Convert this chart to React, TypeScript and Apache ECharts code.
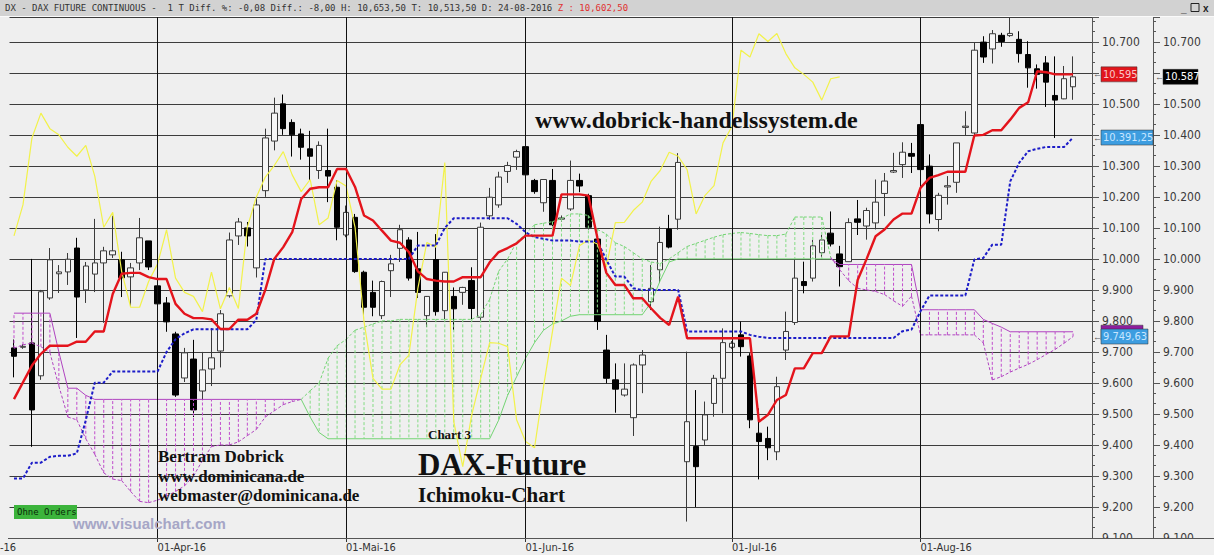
import React, { useEffect, useRef } from "react";
import * as echarts from "echarts";

// ---- Data (DAX future daily, ~09-Mar-16 .. 24-Aug-16) ----
const opens = [9713, 9715, 9729, 9623, 9874, 9952, 9958, 10035, 9900, 9951,
  9987, 10013, 9997, 9942, 9987, 10058, 9913, 9858, 9758, 9616,
  9677, 9574, 9645, 9703, 9881, 10074, 10100, 9971, 10220, 10380,
  10500, 10440, 10403, 10355, 10285, 10285, 10231, 10077, 10134, 9957,
  9892, 9817, 9962, 10034, 10061, 9968, 9817, 9998, 9833, 9879,
  9892, 9930, 9812, 10139, 10174, 10282, 10328, 10362, 10253, 10181,
  10253, 10128, 10161, 10253, 10204, 10064, 9706, 9610, 9561, 9488,
  9658, 9862, 9965, 10096, 10128, 9346, 9395, 9416, 9534, 9615,
  9715, 9755, 9687, 9438, 9421, 9378, 9706, 9795, 9927, 9938,
  10020, 10083, 10016, 9991, 10129, 10106, 10116, 10211, 10280, 10304,
  10340, 10433, 10299, 10127, 10232, 10247, 10424, 10406, 10699, 10677,
  10721, 10720, 10708, 10659, 10613, 10632, 10527, 10516, 10555];
const closes = [9686, 9718, 9513, 9894, 9997, 9958, 9999, 9877, 9977, 9987,
  10026, 10026, 9939, 9971, 10068, 9974, 9855, 9797, 9561, 9697,
  9513, 9642, 9681, 9823, 10061, 10119, 10074, 10174, 10390, 10470,
  10420, 10400, 10360, 10331, 10366, 10267, 10102, 10150, 9959, 9844,
  9844, 9927, 9984, 10094, 9938, 9892, 9879, 9830, 9957, 9839,
  9908, 9840, 10102, 10199, 10264, 10301, 10346, 10271, 10217, 10256,
  10110, 10132, 10253, 10235, 10102, 9798, 9615, 9580, 9580, 9658,
  9690, 9905, 10053, 10038, 10311, 9475, 9330, 9497, 9615, 9730,
  9728, 9717, 9481, 9411, 9391, 9588, 9766, 9938, 9914, 10042,
  10061, 10048, 9975, 10117, 10118, 10156, 10183, 10251, 10285, 10344,
  10331, 10288, 10145, 10205, 10236, 10374, 10428, 10673, 10651, 10726,
  10701, 10727, 10662, 10616, 10595, 10570, 10512, 10581, 10587];
const lows = [9618, 9710, 9394, 9610, 9868, 9890, 9916, 9745, 9858, 9893,
  9794, 10003, 9877, 9845, 9964, 9964, 9850, 9765, 9555, 9603,
  9490, 9545, 9590, 9650, 9875, 10045, 10040, 9940, 10200, 10350,
  10400, 10330, 10320, 10253, 10258, 10183, 10060, 10070, 9955, 9815,
  9815, 9806, 9877, 9990, 9930, 9874, 9780, 9817, 9806, 9771,
  9852, 9806, 9798, 10126, 10165, 10245, 10287, 10229, 10210, 10152,
  10105, 10120, 10155, 10215, 10095, 9771, 9599, 9504, 9556, 9429,
  9567, 9835, 9922, 10034, 10094, 9153, 9200, 9400, 9491, 9502,
  9710, 9685, 9454, 9289, 9351, 9351, 9674, 9787, 9889, 9927,
  10007, 10040, 9911, 9991, 10077, 10062, 10095, 10138, 10277, 10261,
  10277, 10285, 10114, 10089, 10175, 10213, 10398, 10396, 10632, 10630,
  10684, 10716, 10633, 10552, 10549, 10490, 10390, 10515, 10513];
const highs = [9740, 9725, 10000, 9900, 10035, 9980, 10019, 10068, 9990, 10129,
  10039, 10139, 10023, 9987, 10132, 10058, 9920, 9877, 9765, 9713,
  9739, 9700, 9777, 9835, 10085, 10132, 10119, 10200, 10420, 10520,
  10530, 10450, 10420, 10413, 10379, 10420, 10253, 10172, 10145, 9962,
  9930, 9930, 10013, 10110, 10070, 10087, 9877, 10080, 9956, 9908,
  9910, 9973, 10117, 10229, 10281, 10313, 10352, 10374, 10258, 10255,
  10290, 10140, 10317, 10275, 10210, 10070, 9755, 9663, 9663, 9663,
  9706, 9980, 10104, 10142, 10341, 9701, 9577, 9540, 9626, 9776,
  9735, 9798, 9696, 9518, 9459, 9620, 9830, 9997, 9991, 10061,
  10077, 10153, 10042, 10131, 10190, 10165, 10256, 10277, 10342, 10376,
  10374, 10433, 10337, 10213, 10267, 10374, 10476, 10697, 10718, 10738,
  10729, 10785, 10734, 10702, 10627, 10654, 10653, 10622, 10653];

const tenkan = [9548, 9602, 9656, 9694, 9720, 9720, 9720, 9733, 9733, 9766,
  9766, 9887, 9952, 9955, 9955, 9941, 9935, 9935, 9855, 9823,
  9809, 9809, 9805, 9774, 9774, 9804, 9804, 9823, 9900, 10000,
  10038, 10086, 10193, 10226, 10231, 10231, 10290, 10290, 10232, 10140,
  10124, 10091, 10059, 10052, 10022, 9960, 9935, 9930, 9927, 9927,
  9941, 9941, 9941, 9989, 10022, 10035, 10050, 10075, 10075, 10075,
  10075, 10208, 10208, 10208, 10204, 10068, 9955, 9916, 9916, 9873,
  9873, 9840, 9810, 9787, 9878, 9744, 9744, 9744, 9744, 9744,
  9744, 9744, 9744, 9475, 9497, 9545, 9561, 9647, 9647, 9696,
  9696, 9750, 9750, 9750, 9932, 10000, 10073, 10095, 10127, 10146,
  10146, 10229, 10261, 10270, 10281, 10281, 10281, 10398, 10400, 10415,
  10415, 10449, 10487, 10505, 10605, 10602, 10595, 10595, 10595];
const kijun = [9292, 9292, 9343, 9343, 9362, 9365, 9365, 9373, 9480, 9601,
  9601, 9637, 9637, 9637, 9637, 9637, 9637, 9700, 9741, 9760,
  9773, 9773, 9773, 9773, 9773, 9773, 9773, 9803, 10000, 10000,
  10000, 10000, 10000, 10000, 10000, 10000, 10000, 10000, 10000, 10000,
  10000, 10000, 10000, 10000, 10000, 10043, 10043, 10043, 10100, 10131,
  10131, 10131, 10131, 10131, 10131, 10131, 10113, 10086, 10070, 10065,
  10059, 10059, 10059, 10056, 10056, 10056, 9997, 9943, 9943, 9905,
  9900, 9900, 9900, 9900, 9900, 9766, 9766, 9766, 9766, 9766,
  9766, 9766, 9755, 9749, 9745, 9745, 9745, 9745, 9745, 9745,
  9745, 9745, 9745, 9745, 9745, 9745, 9745, 9745, 9745, 9767,
  9772, 9831, 9882, 9882, 9882, 9882, 9882, 9998, 10003, 10046,
  10046, 10250, 10310, 10347, 10355, 10361, 10361, 10361, 10391.25];
const spanA = [9712, 9723, 9728, 9717, 9698, 9590, 9490, 9481, 9420, 9370,
  9310, 9290, 9285, 9250, 9218, 9214, 9222, 9235, 9250, 9268,
  9300, 9350, 9395, 9400, 9400, 9410, 9430, 9450, 9490, 9510,
  9530, 9540, 9547, 9575, 9600, 9680, 9720, 9740, 9770, 9780,
  9790, 9800, 9800, 9805, 9805, 9805, 9805, 9805, 9805, 9805,
  9805, 9805, 9820, 9870, 9960, 10000, 10055, 10080, 10110, 10115,
  10120, 10130, 10145, 10145, 10140, 10095, 10080, 10052, 10040, 10020,
  10000, 9990, 9985, 10000, 10020, 10040, 10050, 10060, 10070, 10078,
  10082, 10085, 10082, 10078, 10075, 10075, 10080, 10135, 10135, 10135,
  10135, 10005, 9965, 9930, 9905, 9900, 9895, 9885, 9865, 9847,
  9880, 9755, 9755, 9755, 9755, 9755, 9755, 9755, 9729, 9610,
  9620, 9635, 9648, 9660, 9675, 9692, 9708, 9728, 9749.63];
const spanB = [9825, 9825, 9825, 9825, 9825, 9700, 9583, 9583, 9560, 9547,
  9547, 9547, 9547, 9547, 9547, 9547, 9547, 9547, 9547, 9547,
  9547, 9547, 9547, 9547, 9547, 9547, 9547, 9547, 9547, 9547,
  9547, 9547, 9547, 9490, 9440, 9420, 9420, 9420, 9420, 9420,
  9420, 9420, 9420, 9420, 9420, 9420, 9420, 9420, 9420, 9420,
  9420, 9420, 9420, 9420, 9480, 9560, 9620, 9680, 9730, 9770,
  9790, 9800, 9815, 9820, 9820, 9820, 9820, 9820, 9820, 9820,
  9820, 9860, 9930, 9990, 10000, 10000, 10000, 10000, 10000, 10000,
  10000, 10000, 10000, 10000, 10000, 10000, 10000, 10000, 10000, 10000,
  10000, 10000, 9982, 9982, 9982, 9982, 9982, 9982, 9982, 9982,
  9982, 9836, 9836, 9836, 9836, 9836, 9836, 9836, 9805, 9792,
  9780, 9765, 9765, 9765, 9765, 9765, 9765, 9765, 9765];

const CHIKOU_SHIFT = 26;
const TOTAL_SLOTS = 121;
const monthLabels = ["01-Apr-16", "01-Mai-16", "01-Jun-16", "01-Jul-16", "01-Aug-16"];
const monthIndex = [16, 37, 57, 80, 101];

const headerMain = "DX - DAX FUTURE CONTINUOUS -  1 T Diff. %: -0,08 Diff.: -8,00 H: 10,653,50 T: 10,513,50 D: 24-08-2016 ";
const headerLast = "Z : 10,602,50";

// price tags at the right edge; the purple span-B tag is almost fully hidden by the blue one
const priceTags = [
  { value: tenkan[tenkan.length - 1], text: "10.595", bg: "#e2161c", fg: "#f8c8c8", axis: 0, w: 36, arrow: true },
  { value: kijun[kijun.length - 1], text: "10.391,25", bg: "#3d9de0", fg: "#c8e6ff", axis: 0, w: 52, arrow: true },
  { value: 9762, text: "", bg: "#8e1e9e", fg: "#e6b6ee", axis: 0, w: 42, arrow: false },
  { value: spanA[spanA.length - 1], text: "9.749,63", bg: "#3d9de0", fg: "#c8e6ff", axis: 0, w: 47, arrow: true },
  { value: closes[closes.length - 1], text: "10.587", bg: "#000000", fg: "#ffffff", axis: 1, w: 35, arrow: true },
];
// axis labels hidden underneath the price tags
const coveredLabels0 = [10600, 10400];
const coveredLabels1 = [10600];

const AXIS_FONT = "'Liberation Sans Narrow', 'DejaVu Sans Condensed', 'Liberation Sans', sans-serif";
const SERIF = "'Liberation Serif', 'DejaVu Serif', serif";
const MONO = "'DejaVu Sans Mono', 'Liberation Mono', monospace";

function fmtDE(v: number) {
  const t = Math.floor(v / 1000);
  const r = Math.round(v - t * 1000);
  return t + "." + String(r).padStart(3, "0");
}

export default function App() {
  const ref = useRef<HTMLDivElement>(null);
  useEffect(() => {
    document.body.style.margin = "0";
    const chart = echarts.init(ref.current!, undefined, { renderer: "svg" });
    const cats = Array.from({ length: TOTAL_SLOTS }, (_, i) => String(i));
    const labelAt: Record<number, string> = {};
    monthIndex.forEach((m, k) => (labelAt[m] = monthLabels[k]));
    const isMonth = (i: number) => labelAt[i] !== undefined;

    const candleData = opens.map((o, i) => [o, closes[i], lows[i], highs[i]]);
    const cloudData = spanA.map((a, i) => [
      i, a, spanB[i],
      i + 1 < spanA.length ? spanA[i + 1] : a,
      i + 1 < spanB.length ? spanB[i + 1] : spanB[i],
    ]);
    const chikou = closes.slice(CHIKOU_SHIFT);
    const lastIdx = spanA.length - 1;

    const makeYAxis = (covered: number[], offset: number, split: boolean) => ({
      type: "value",
      min: 9100,
      max: 10780,
      interval: 100,
      position: "right",
      offset,
      axisLine: { show: true, lineStyle: { color: "#555", width: 1 } },
      axisTick: { show: true, length: 7, lineStyle: { color: "#555" } },
      minorTick: { show: true, splitNumber: 3, length: 3, lineStyle: { color: "#555" } },
      splitLine: { show: split, lineStyle: { color: "#3c3c3c", width: 1 } },
      axisLabel: {
        formatter: (v: number) => (covered.includes(v) ? "" : fmtDE(v)),
        color: "#3a3a3a",
        fontSize: 12,
        fontFamily: AXIS_FONT,
        margin: 10,
        showMaxLabel: false,
      },
    });

    const txt = (x: number, y: number, text: string, font: string, fill: string, z = 50) => ({
      type: "text", z, x, y,
      style: { text, font, fill, verticalAlign: "middle", textVerticalAlign: "middle" },
    });

    const baseGraphic: any[] = [
      { type: "rect", z: 100, shape: { x: 0, y: 0, width: 1214, height: 16 }, style: { fill: "#d2d2d2" } },
      { type: "line", z: 100, shape: { x1: 0, y1: 16.5, x2: 1214, y2: 16.5 }, style: { stroke: "#fafafa", lineWidth: 1 } },
      {
        type: "text", z: 101, x: 5, y: 8,
        style: {
          text: "{a|" + headerMain + "}{b|" + headerLast + "}",
          verticalAlign: "middle", textVerticalAlign: "middle",
          rich: {
            a: { fill: "#333333", font: "9px " + MONO },
            b: { fill: "#e03030", font: "9px " + MONO },
          },
        },
      },
      txt(1181, 8, "_", "bold 10px sans-serif", "#222", 101),
      { type: "rect", z: 101, shape: { x: 1191, y: 3.5, width: 8, height: 8 }, style: { fill: "none", stroke: "#222", lineWidth: 1 } },
      txt(1203, 8, "x", "bold 10px sans-serif", "#222", 101),
      txt(535, 120, "www.dobrick-handelssystem.de", "bold 24px " + SERIF, "#111"),
      txt(158, 456, "Bertram Dobrick", "bold 17px " + SERIF, "#111"),
      txt(158, 476, "www.dominicana.de", "bold 17px " + SERIF, "#111"),
      txt(158, 495, "webmaster@dominicana.de", "bold 17px " + SERIF, "#111"),
      txt(428, 434, "Chart 3", "bold 13px " + SERIF, "#111"),
      txt(418, 464, "DAX-Future", "bold 31px " + SERIF, "#111"),
      txt(418, 495, "Ichimoku-Chart", "bold 21px " + SERIF, "#111"),
      txt(73, 523, "www.visualchart.com", "bold 15px 'Liberation Sans', Arial, sans-serif", "#a6a6c6"),
      { type: "rect", z: 50, shape: { x: 14, y: 505, width: 63, height: 14 }, style: { fill: "#3cb43c" } },
      txt(17, 512, "Ohne Orders", "9px " + MONO, "#0a2a0a", 51),
      { type: "rect", z: 100, shape: { x: 1090, y: 539, width: 124, height: 16 }, style: { fill: "#efefef" } },
      { type: "line", z: 101, shape: { x1: 8, y1: 538.5, x2: 1214, y2: 538.5 }, style: { stroke: "#555", lineWidth: 1 } },
      txt(0, 547, "-16", "11px " + AXIS_FONT, "#333"),
    ];

    const option: any = {
      animation: false,
      backgroundColor: "#efefef",
      grid: { left: 9.5, right: 118.5, top: 17, bottom: 17, containLabel: false },
      xAxis: {
        type: "category",
        data: cats,
        boundaryGap: true,
        axisLine: { show: true, lineStyle: { color: "#555" } },
        axisTick: { show: true, alignWithLabel: true, interval: (i: number) => isMonth(i), length: 4, lineStyle: { color: "#333" } },
        axisLabel: {
          interval: (i: number) => isMonth(i),
          formatter: (_v: string, i: number) => labelAt[i] || "",
          align: "left",
          color: "#333",
          fontSize: 11,
          fontFamily: AXIS_FONT,
          margin: 4,
        },
        splitLine: { show: false },
      },
      yAxis: [
        makeYAxis(coveredLabels0, -3.5, true),
        makeYAxis(coveredLabels1, 57.5, false),
      ],
      series: [
        {
          type: "candlestick",
          name: "DAX",
          data: candleData,
          barWidth: 6,
          z: 2,
          itemStyle: { color: "#f6f6f6", color0: "#000000", borderColor: "#3a3a3a", borderColor0: "#000000", borderWidth: 1 },
          emphasis: { disabled: true },
          markLine: {
            silent: true,
            symbol: "none",
            label: { show: false },
            lineStyle: { type: "solid", color: "#111", width: 1 },
            emphasis: { disabled: true },
            data: monthIndex.map((m) => ({ xAxis: String(m) })),
          },
        },
        {
          type: "custom",
          name: "Kumo",
          z: 3,
          data: cloudData,
          encode: { x: 0, y: [1, 2] },
          renderItem: (_params: any, api: any) => {
            const i = api.value(0);
            const a = api.value(1), b = api.value(2), an = api.value(3), bn = api.value(4);
            const pA = api.coord([i, a]);
            const pB = api.coord([i, b]);
            const up = a >= b;
            const children: any[] = [
              {
                type: "line",
                shape: { x1: pA[0], y1: pA[1], x2: pB[0], y2: pB[1] },
                style: { stroke: up ? "#84dc84" : "#c04ccc", lineWidth: 1, lineDash: [3, 2] },
              },
            ];
            if (i < lastIdx) {
              const qA = api.coord([i + 1, an]);
              const qB = api.coord([i + 1, bn]);
              const upSeg = a + an >= b + bn;
              const c = upSeg ? "#74d474" : "#b044c0";
              children.push({ type: "line", shape: { x1: pA[0], y1: pA[1], x2: qA[0], y2: qA[1] }, style: { stroke: c, lineWidth: 1, lineDash: [3, 2] } });
              children.push({ type: "line", shape: { x1: pB[0], y1: pB[1], x2: qB[0], y2: qB[1] }, style: { stroke: c, lineWidth: 1 } });
            }
            return { type: "group", children };
          },
        },
        {
          type: "line", name: "Chikou", data: chikou, z: 4, symbol: "none",
          lineStyle: { color: "#f2f24a", width: 1.2 }, emphasis: { disabled: true },
        },
        {
          type: "line", name: "Kijun", data: kijun, z: 5, symbol: "none",
          lineStyle: { color: "#1c1cc8", width: 2, type: [3, 2] }, emphasis: { disabled: true },
        },
        {
          type: "line", name: "Tenkan", data: tenkan, z: 6, symbol: "none",
          lineStyle: { color: "#e4141c", width: 2.4 }, emphasis: { disabled: true },
        },
      ],
      graphic: baseGraphic,
    };
    chart.setOption(option);

    const tagGraphic: any[] = [];
    priceTags.forEach((t) => {
      const y = chart.convertToPixel({ yAxisIndex: t.axis } as any, t.value) as number;
      const x0 = t.axis === 0 ? 1101 : 1163;
      tagGraphic.push({ type: "rect", z: 110, shape: { x: x0, y: y - 7.5, width: t.w, height: 15 }, style: { fill: t.bg, stroke: "#333", lineWidth: 0.5 } });
      if (t.text) tagGraphic.push(txt(x0 + 2, y, t.text, "11px " + AXIS_FONT, t.fg, 111));
      if (t.arrow) tagGraphic.push(txt(x0 - 8, y, "\u2190", "9px sans-serif", "#555", 111));
    });
    chart.setOption({ graphic: [...baseGraphic, ...tagGraphic] });

    return () => chart.dispose();
  }, []);
  return <div ref={ref} style={{ width: 1214, height: 555, background: "#efefef" }} />;
}
